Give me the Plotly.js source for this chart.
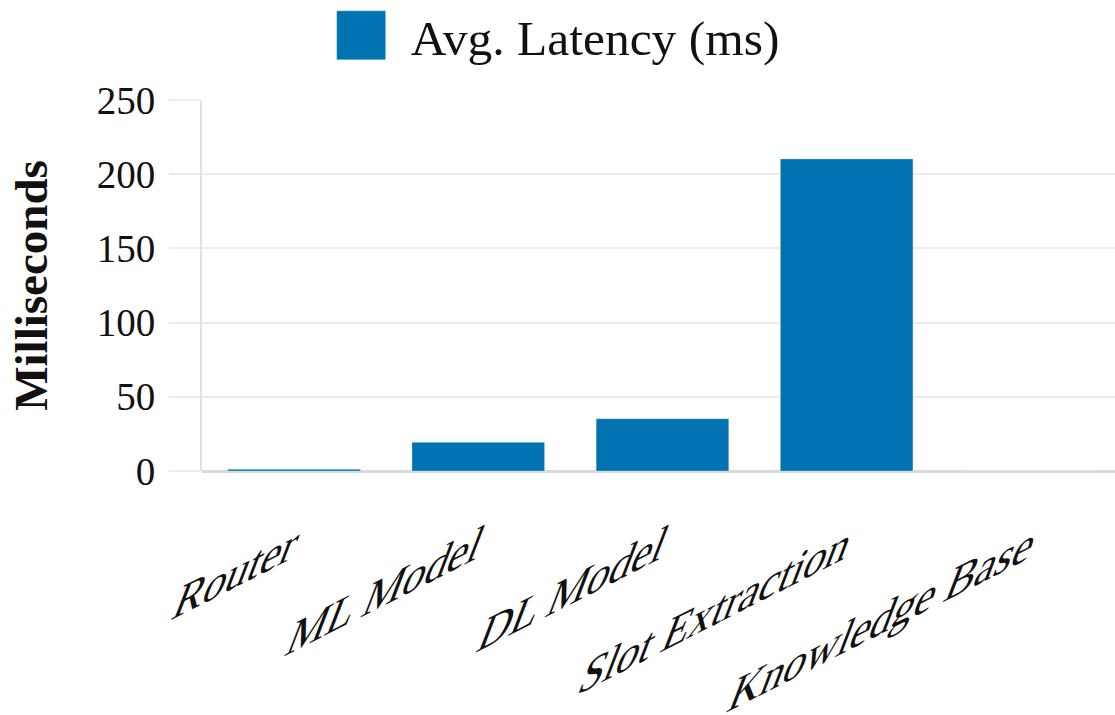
<!DOCTYPE html>
<html>
<head>
<meta charset="utf-8">
<script src="https://cdn.plot.ly/plotly-3.0.1.min.js"></script>
<style>
html,body{margin:0;padding:0;background:#fff;overflow:hidden;}
#chart{width:1115px;height:715px;}
</style>
</head>
<body>
<div id="chart"></div>
<script>
// ---- data ----
var categories = ["Router", "ML Model", "DL Model", "Slot Extraction", "Knowledge Base"];
var latencyMs = [1.2, 19.3, 35.2, 210.3, 0];
var seriesName = "Avg. Latency (ms)";
var yTickVals = [0, 50, 100, 150, 200, 250];
var yTickText = ["0", "50", "100", "150", "200", "250"];

var FONT = "Liberation Serif, Times New Roman, serif";

var trace = {
  type: "bar",
  x: categories,
  y: latencyMs,
  name: seriesName,
  marker: { color: "#0072b2", line: { color: "rgba(255,255,255,0.3)", width: 1 } },
  showlegend: true
};

var layout = {
  width: 1115,
  height: 715,
  margin: { l: 202, r: 0, t: 100, b: 244, pad: 0 },
  paper_bgcolor: "#ffffff",
  plot_bgcolor: "#ffffff",
  font: { family: FONT, color: "#111111", size: 38 },
  bargap: 0.28,
  showlegend: true,
  legend: {
    orientation: "h",
    x: 0.119, xanchor: "left",
    y: 1.265, yanchor: "top",
    font: { family: FONT, size: 49.5, color: "#111111" },
    itemwidth: 89,
    bgcolor: "rgba(0,0,0,0)",
    borderwidth: 0
  },
  xaxis: {
    type: "category",
    range: [-0.5, 4.457],
    showgrid: false,
    zeroline: false,
    showline: false,
    ticks: "",
    tickangle: -27,
    tickfont: { family: FONT, size: 50, color: "#111111" },
    automargin: false
  },
  yaxis: {
    range: [0, 250],
    tickvals: yTickVals,
    ticktext: yTickText,
    showgrid: true,
    gridcolor: "#ececec",
    gridwidth: 2,
    zeroline: true,
    zerolinecolor: "#d9d9d9",
    zerolinewidth: 3,
    showline: true,
    linecolor: "#e2e2e2",
    linewidth: 2,
    ticks: "outside",
    ticklen: 31,
    tickwidth: 2,
    tickcolor: "#ececec",
    ticklabelstandoff: 6,
    tickfont: { family: FONT, size: 39, color: "#111111" },
    automargin: false,
    title: {
      text: "Milliseconds",
      font: { family: FONT, size: 47, color: "#111111", weight: "bold" },
      standoff: 34
    }
  }
};

function restyleLabels(gd) {
  try {
    var xa = gd._fullLayout.xaxis;
    var ya = gd._fullLayout.yaxis;
    var rect = gd.getBoundingClientRect();
    var svg = gd.querySelector(".main-svg");
    var texts = gd.querySelectorAll(".xtick text");
    // slanted label geometry: baseline direction (a,b), downward glyph direction (c,d)
    var a = 0.891, b = -0.454, c = -0.405, d = 1.055;
    texts.forEach(function (t, i) {
      var dat = t.__data__ || (t.parentNode && t.parentNode.__data__);
      var xv = (dat && typeof dat.x === "number") ? dat.x : i;
      t.setAttribute("transform", "");
      var bb = t.getBBox();
      var bx = bb.x + bb.width;
      var by = bb.y + bb.height * 0.805;
      var sx = rect.left + xa._offset + xa.l2p(xv) - 3;
      var sy = rect.top + ya._offset + ya._length + 88;
      var pt = svg.createSVGPoint();
      pt.x = sx; pt.y = sy;
      var loc = pt.matrixTransform(t.parentNode.getScreenCTM().inverse());
      t.setAttribute("transform",
        "translate(" + loc.x + "," + loc.y + ") matrix(" + a + "," + b + "," + c + "," + d + ",0,0) translate(" + (-bx) + "," + (-by) + ")");
    });
    gd.querySelectorAll(".legendpoints path").forEach(function (p) {
      p.setAttribute("d", "M24.5,24.5H-24.5V-24.5H24.5Z");
    });
    var lg = gd.querySelector("g.legend");
    if (lg) {
      var tr = lg.getAttribute("transform") || "";
      var m = /translate\(\s*([-\d.e]+)[ ,]+([-\d.e]+)\s*\)/.exec(tr);
      if (m) {
        lg.setAttribute("transform", "translate(" + (parseFloat(m[1]) + 1) + "," + (parseFloat(m[2]) - 5) + ")");
      }
    }
  } catch (e) { console.log(e); }
}

var gd = document.getElementById("chart");
Plotly.newPlot(gd, [trace], layout, { staticPlot: true, responsive: false, displayModeBar: false })
  .then(function () { restyleLabels(gd); });
</script>
</body>
</html>
